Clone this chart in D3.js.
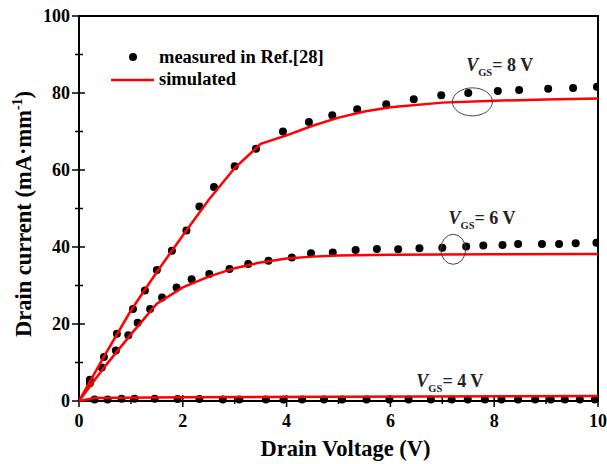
<!DOCTYPE html>
<html>
<head>
<meta charset="utf-8">
<script src="https://cdn.jsdelivr.net/npm/d3@7"></script>
<style>
  body { margin: 0; background: #fff; }
  svg text { font-family: "Liberation Serif", "Times New Roman", serif; font-weight: bold; }
</style>
</head>
<body>
<div id="chart"></div>
<script>
// measured points (Ref.[28])
var meas8V = [0.21, 0.48, 0.73, 1.04, 1.27, 1.5, 1.79, 2.07, 2.32, 2.6, 3.0, 3.41, 3.93, 4.43, 4.88, 5.36, 5.92, 6.45, 6.98, 7.5, 8.07, 8.48, 9.04, 9.52, 9.98];
var meas8I = [5.5, 11.4, 17.5, 23.9, 28.7, 34, 39, 44.3, 50.5, 55.6, 61, 65.5, 70, 72.5, 74.2, 75.8, 77.1, 78.4, 79.4, 80, 80.5, 80.8, 81.1, 81.3, 81.6];

var meas6V = [0.21, 0.44, 0.71, 0.95, 1.13, 1.37, 1.6, 1.88, 2.17, 2.51, 2.9, 3.26, 3.65, 4.1, 4.47, 4.89, 5.33, 5.74, 6.15, 6.56, 7.0, 7.46, 7.79, 8.16, 8.46, 8.92, 9.25, 9.57, 9.97];
var meas6I = [4.6, 8.7, 13.1, 17.1, 20.3, 23.9, 26.9, 29.5, 31.6, 33, 34.3, 35.6, 36.4, 37.3, 38.4, 38.6, 39.2, 39.5, 39.4, 39.7, 39.8, 40.1, 40.4, 40.5, 40.8, 40.8, 40.8, 41, 41.1];

var meas4V = [0.3, 0.55, 0.82, 1.07, 1.46, 1.9, 2.32, 2.77, 3.09, 3.6, 3.94, 4.3, 4.72, 5.07, 5.54, 5.98, 6.35, 6.78, 7.18, 7.49, 7.82, 8.14, 8.46, 8.79, 9.09, 9.36, 9.65, 9.94];
var meas4I = [0.4, 0.4, 0.6, 0.6, 0.6, 0.5, 0.5, 0.4, 0.4, 0.4, 0.4, 0.4, 0.4, 0.4, 0.4, 0.4, 0.4, 0.4, 0.4, 0.4, 0.4, 0.4, 0.4, 0.4, 0.4, 0.4, 0.4, 0.4];

// simulated curves
var sim8V = [0, 0.5, 1, 1.5, 2, 2.5, 3, 3.5, 4, 4.5, 5, 5.5, 6, 7, 8, 9, 10];
var sim8I = [0, 12, 23.5, 33.5, 43, 52.3, 60.5, 66.8, 69, 71.5, 73.6, 75.2, 76.3, 77.5, 78, 78.3, 78.6];

var sim6V = [0, 0.5, 1, 1.5, 2, 2.5, 3, 3.5, 4, 4.5, 5, 6, 8, 10];
var sim6I = [0, 9, 17.3, 25.3, 29.5, 32.3, 34.5, 36, 37, 37.5, 37.8, 38, 38.1, 38.2];

var sim4V = [0, 0.3, 2, 10];
var sim4I = [0, 0.8, 1.0, 1.3];

var xTicks = [0, 2, 4, 6, 8, 10];
var yTicks = [0, 20, 40, 60, 80, 100];

(function() {
    var width = 607, height = 464
    var margin = {left: 79, right: 9, top: 16, bottom: 63}

    var svg = d3.select("#chart")
        .append("svg")
        .attr("width", width)
        .attr("height", height)

    var x = d3.scaleLinear().domain([0, 10]).range([margin.left, width - margin.right])
    var y = d3.scaleLinear().domain([0, 100]).range([height - margin.bottom, margin.top])

    var zip = function(xs, ys) {
        return xs.map(function(v, i) { return [v, ys[i]] })
    }

    svg.append("clipPath").attr("id", "plot")
        .append("rect")
        .attr("x", x(0)).attr("y", y(100))
        .attr("width", x(10) - x(0)).attr("height", y(0) - y(100) + 4)

    // ticks (crossing the axis)
    var minorX = d3.range(1, 10, 2)
    var minorY = d3.range(10, 100, 20)

    svg.selectAll(".xt").data(xTicks.concat(minorX)).enter()
        .append("line")
        .attr("x1", function(d) { return x(d) })
        .attr("x2", function(d) { return x(d) })
        .attr("y1", function(d) { return y(0) - (d % 2 === 0 ? 6 : 4) })
        .attr("y2", function(d) { return y(0) + (d % 2 === 0 ? 6 : 3) })
        .attr("stroke", "#000").attr("stroke-width", 1.5)

    svg.selectAll(".yt").data(yTicks.concat(minorY)).enter()
        .append("line")
        .attr("y1", function(d) { return y(d) })
        .attr("y2", function(d) { return y(d) })
        .attr("x1", function(d) { return x(0) - (d % 20 === 0 ? 7 : 4) })
        .attr("x2", function(d) { return x(0) + (d % 20 === 0 ? 6 : 4) })
        .attr("stroke", "#000").attr("stroke-width", 1.5)

    svg.selectAll(".xl").data(xTicks).enter()
        .append("text")
        .attr("x", function(d) { return x(d) })
        .attr("y", y(0) + 26)
        .attr("text-anchor", "middle")
        .style("font-size", "18px")
        .text(function(d) { return d })

    svg.selectAll(".yl").data(yTicks).enter()
        .append("text")
        .attr("x", x(0) - 9)
        .attr("y", function(d) { return y(d) + 6 })
        .attr("text-anchor", "end")
        .style("font-size", "18px")
        .text(function(d) { return d })

    // frame
    svg.append("rect")
        .attr("x", x(0)).attr("y", y(100))
        .attr("width", x(10) - x(0)).attr("height", y(0) - y(100))
        .attr("fill", "none").attr("stroke", "#000").attr("stroke-width", 2)

    // axis titles
    svg.append("text")
        .attr("x", (x(0) + x(10)) / 2 + 7)
        .attr("y", 456)
        .attr("text-anchor", "middle")
        .style("font-size", "22.5px")
        .text("Drain Voltage (V)")

    var yt = svg.append("text")
        .attr("transform", "translate(31," + 214 + ") rotate(-90)")
        .attr("text-anchor", "middle")
        .style("font-size", "22.5px")
    yt.append("tspan").text("Drain current (mA\u00b7mm")
    yt.append("tspan").attr("dy", -9).style("font-size", "14px").text("-1")
    yt.append("tspan").attr("dy", 9).text(")")

    var line = d3.line()
        .x(function(d) { return x(d[0]) })
        .y(function(d) { return y(d[1]) })

    var measured = [zip(meas8V, meas8I), zip(meas6V, meas6I), zip(meas4V, meas4I)]
    var simulated = [zip(sim8V, sim8I), zip(sim6V, sim6I), zip(sim4V, sim4I)]

    var plot = svg.append("g").attr("clip-path", "url(#plot)")

    measured.forEach(function(pts) {
        plot.selectAll(null).data(pts).enter()
            .append("circle")
            .attr("cx", function(d) { return x(d[0]) })
            .attr("cy", function(d) { return y(d[1]) })
            .attr("r", 4)
            .attr("fill", "#000")
    })

    simulated.forEach(function(pts) {
        plot.append("path")
            .datum(pts)
            .attr("d", line)
            .attr("fill", "none")
            .attr("stroke", "#ff0000")
            .attr("stroke-width", 2.5)
    })

    // legend
    svg.append("circle").attr("cx", 133).attr("cy", 57).attr("r", 4).attr("fill", "#000")
    svg.append("text").attr("x", 159).attr("y", 63).style("font-size", "18.5px").text("measured in Ref.[28]")
    svg.append("line").attr("x1", 111).attr("x2", 154).attr("y1", 80).attr("y2", 80)
        .attr("stroke", "#ff0000").attr("stroke-width", 2.5)
    svg.append("text").attr("x", 159).attr("y", 85).style("font-size", "18.5px").text("simulated")

    // V_GS annotations
    var labels = [
        {v: 7.46, i: 85.7, t: "8 V"},
        {v: 7.12, i: 46, t: "6 V"},
        {v: 6.5, i: 3.7, t: "4 V"}
    ]
    labels.forEach(function(l) {
        var t = svg.append("text")
            .attr("x", x(l.v)).attr("y", y(l.i))
            .style("font-size", "18px")
            .attr("fill", "#222")
        t.append("tspan").style("font-style", "italic").text("V")
        t.append("tspan").attr("dy", 5).style("font-size", "10.5px").text("GS")
        t.append("tspan").attr("dy", -5).text("= " + l.t)
    })

    var rings = [
        {v: 7.58, i: 77.7, rx: 20, ry: 14},
        {v: 7.21, i: 39.4, rx: 12.5, ry: 15}
    ]
    svg.selectAll(".ring").data(rings).enter()
        .append("ellipse")
        .attr("cx", function(d) { return x(d.v) })
        .attr("cy", function(d) { return y(d.i) })
        .attr("rx", function(d) { return d.rx })
        .attr("ry", function(d) { return d.ry })
        .attr("fill", "none")
        .attr("stroke", "#444")
        .attr("stroke-width", 1)
})();
</script>
</body>
</html>
